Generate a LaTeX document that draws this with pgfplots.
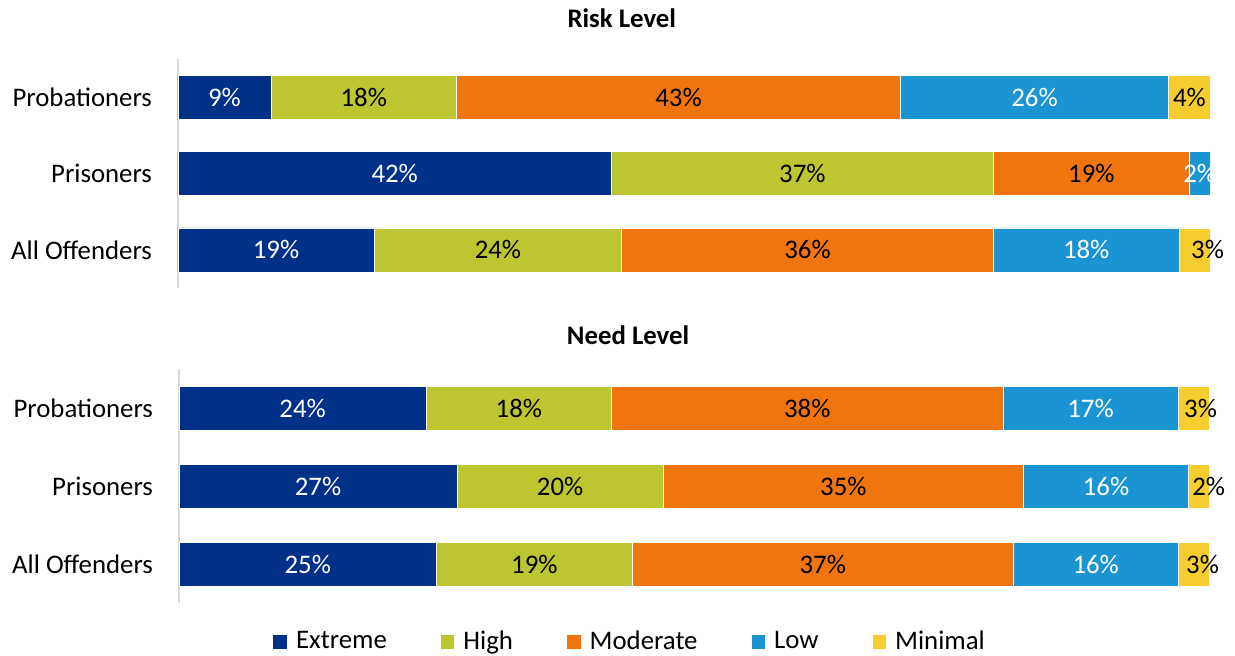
\documentclass[border=0pt]{standalone}
\usepackage{fontspec}
\setmainfont{Carlito}
\usepackage{pgfplots}
\pgfplotsset{compat=1.18}
\usepackage{pgfplotstable}
\definecolor{cExt}{RGB}{0,48,135}
\definecolor{cHigh}{RGB}{189,198,48}
\definecolor{cMod}{RGB}{240,117,15}
\definecolor{cLow}{RGB}{26,148,210}
\definecolor{cMin}{RGB}{246,205,47}
\definecolor{axgray}{RGB}{217,217,217}
\newcommand\lbl{\fontsize{13.4}{16}\selectfont}

\pgfplotstableread{
y E H M L N s
0 9 18 43 26 4 0
1 42 37 19 2 0 0
2 19 24 36 18 3 6.5
}\risk
\pgfplotstableread{
y E H M L N s
0 24 18 38 17 3 3.5
1 27 20 35 16 2 5
2 25 19 37 16 3 4.5
}\need

\pgfplotsset{
  sq legend/.style={legend image code/.code={\path[##1,draw=none] (0pt,-3.4pt) rectangle (6.8pt,3.4pt);}},
  mybars/.style={
    xbar stacked, bar width=22pt, scale only axis,
    xmin=0, xmax=100, ymin=-0.5, ymax=2.5, y dir=reverse,
    axis x line=none, axis y line=left,
    y axis line style={-, draw=axgray, line width=1pt},
    ytick={0,1,2}, yticklabels={Probationers,Prisoners,All Offenders},
    major tick length=0pt, ytick style={draw=none},
    yticklabel style={font=\lbl, xshift=-9.5pt},
    point meta=explicit,
    /pgf/number format/assume math mode=true,
    nodes near coords={\pgfmathfloatifflags{\pgfplotspointmeta}{0}{}{\pgfmathprintnumber{\pgfplotspointmeta}\%}},
    every node near coord/.append style={font=\lbl, text=black},
    title style={font=\lbl\bfseries, anchor=center},
  },
}

\begin{document}
\begin{tikzpicture}[font=\lbl]
\useasboundingbox (0,0) rectangle (617.5pt,-328pt);
\begin{axis}[mybars, at={(89pt,-29.5pt)}, anchor=north west, width=516pt, height=114.5pt,
  title={Risk Level}, title style={at={(0.430,1)}, yshift=14.5pt}]
\addplot[fill=cExt, draw=white, line width=0.3pt, sq legend, every node near coord/.append style={text=white}] table[x=E, y=y, meta=E] {\risk};
\addplot[fill=cHigh, draw=white, line width=0.3pt, sq legend] table[x=H, y=y, meta=H] {\risk};
\addplot[fill=cMod, draw=white, line width=0.3pt, sq legend] table[x=M, y=y, meta=M] {\risk};
\addplot[fill=cLow, draw=white, line width=0.3pt, sq legend, every node near coord/.append style={text=white}] table[x=L, y=y, meta=L] {\risk};
\addplot[fill=cMin, draw=white, line width=0.3pt, sq legend, visualization depends on={\thisrow{s} \as \sh}, every node near coord/.append style={xshift=\sh pt}] table[x=N, y=y, meta=N] {\risk};
\end{axis}
\begin{axis}[mybars, at={(89.5pt,-184.5pt)}, anchor=north west, width=515pt, height=117pt,
  title={Need Level}, title style={at={(0.436,1)}, yshift=11pt},
  legend style={at={(0.439,-0.166)}, anchor=center, draw=none, fill=none, font=\lbl,
    legend columns=5,
    /tikz/every odd column/.append style={column sep=2.5pt},
    /tikz/every even column/.append style={column sep=25pt}}]
\addplot[fill=cExt, draw=white, line width=0.3pt, sq legend, every node near coord/.append style={text=white}] table[x=E, y=y, meta=E] {\need};
\addplot[fill=cHigh, draw=white, line width=0.3pt, sq legend] table[x=H, y=y, meta=H] {\need};
\addplot[fill=cMod, draw=white, line width=0.3pt, sq legend] table[x=M, y=y, meta=M] {\need};
\addplot[fill=cLow, draw=white, line width=0.3pt, sq legend, every node near coord/.append style={text=white}] table[x=L, y=y, meta=L] {\need};
\addplot[fill=cMin, draw=white, line width=0.3pt, sq legend, visualization depends on={\thisrow{s} \as \sh}, every node near coord/.append style={xshift=\sh pt}] table[x=N, y=y, meta=N] {\need};
\legend{Extreme,High,Moderate,Low,Minimal}
\end{axis}
\end{tikzpicture}
\end{document}
